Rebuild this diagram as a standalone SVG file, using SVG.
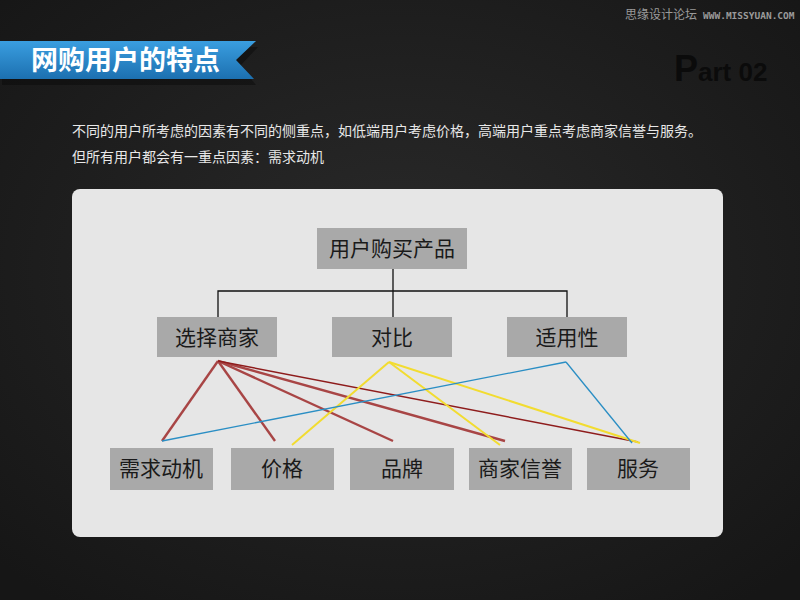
<svg xmlns="http://www.w3.org/2000/svg" width="800" height="600" viewBox="0 0 800 600">
<defs>
<radialGradient id="bg" cx="50%" cy="45%" r="70%">
<stop offset="0" stop-color="#2a2a2a"/>
<stop offset="1" stop-color="#161616"/>
</radialGradient>
<linearGradient id="rib" x1="0" y1="0" x2="0" y2="1">
<stop offset="0" stop-color="#3a9ee0"/>
<stop offset="1" stop-color="#1c70b0"/>
</linearGradient>
<style>
.cjk{font-family:"Noto Sans CJK SC","Noto Sans",sans-serif;}
.box{fill:#a9a9a9;}
.lbl{font-family:"Noto Sans CJK SC",sans-serif;font-size:21px;fill:#1a1a1a;text-anchor:middle;}
.tree{stroke:#111;stroke-width:1.3;fill:none;}
.r{stroke:#a84545;stroke-width:2.4;fill:none;}
.dr{stroke:#8e1c1c;stroke-width:1.4;fill:none;}
.y{stroke:#f2dc30;stroke-width:2;fill:none;}
.b{stroke:#2a8ec4;stroke-width:1.3;fill:none;}
</style>
</defs>
<rect width="800" height="600" fill="url(#bg)"/>
<text x="625" y="19" font-family="Noto Sans CJK SC,sans-serif" font-size="12" fill="#9a9a9a">思缘设计论坛</text>
<text x="703" y="19" font-family="DejaVu Sans Mono,monospace" font-size="9.5" fill="#9a9a9a" font-weight="bold">WWW.MISSYUAN.COM</text>
<g id="banner">
<polygon points="0,44 256,44 238,63 254,82 0,82" fill="#0a0a0a" opacity="0.5" transform="translate(2,3)"/>
<polygon points="0,41 256,41 236,60 254,79 0,79" fill="url(#rib)"/>
<text x="31" y="70" font-family="Noto Sans CJK SC,sans-serif" font-size="27" font-weight="bold" fill="#ffffff">网购用户的特点</text>
</g>
<text x="674" y="81" font-family="Liberation Sans,Arial,sans-serif" font-weight="bold" fill="#0b0b0b"><tspan font-size="36">P</tspan><tspan font-size="26">art 02</tspan></text>
<g class="cjk" font-size="14" fill="#e8e8e8">
<text x="72" y="136">不同的用户所考虑的因素有不同的侧重点，如低端用户考虑价格，高端用户重点考虑商家信誉与服务。</text>
<text x="72" y="162">但所有用户都会有一重点因素：需求动机</text>
</g>
<rect x="72" y="189" width="651" height="348" rx="8" fill="#e6e6e6"/>
<g id="connectors">
<path class="tree" d="M393,269 V291 M218,317 V291 H567 V317 M393,291 V317"/>
<line class="r" x1="218" y1="361" x2="162" y2="441"/>
<line class="r" x1="218" y1="361" x2="275" y2="441"/>
<line class="r" x1="218" y1="361" x2="393" y2="441"/>
<line class="r" x1="218" y1="361" x2="505" y2="441"/>
<line class="dr" x1="218" y1="361" x2="638" y2="442"/>
<line class="y" x1="389" y1="362" x2="292" y2="445"/>
<line class="y" x1="389" y1="362" x2="500" y2="445"/>
<line class="y" x1="389" y1="362" x2="640" y2="443"/>
<line class="b" x1="566" y1="362" x2="162" y2="441"/>
<line class="b" x1="566" y1="362" x2="632" y2="443"/>
</g>
<g id="n-root"><rect class="box" x="317" y="228" width="150" height="41"/><text class="lbl" x="392" y="256">用户购买产品</text></g>
<g id="n-select"><rect class="box" x="157" y="317" width="120" height="40"/><text class="lbl" x="217" y="345">选择商家</text></g>
<g id="n-compare"><rect class="box" x="332" y="317" width="120" height="40"/><text class="lbl" x="392" y="345">对比</text></g>
<g id="n-fit"><rect class="box" x="507" y="317" width="120" height="40"/><text class="lbl" x="567" y="345">适用性</text></g>
<g id="n-need"><rect class="box" x="110" y="448" width="103" height="42"/><text class="lbl" x="161" y="476">需求动机</text></g>
<g id="n-price"><rect class="box" x="231" y="448" width="103" height="42"/><text class="lbl" x="282" y="476">价格</text></g>
<g id="n-brand"><rect class="box" x="350" y="448" width="104" height="42"/><text class="lbl" x="402" y="476">品牌</text></g>
<g id="n-credit"><rect class="box" x="469" y="448" width="103" height="42"/><text class="lbl" x="520" y="476">商家信誉</text></g>
<g id="n-service"><rect class="box" x="587" y="448" width="103" height="42"/><text class="lbl" x="638" y="476">服务</text></g>
</svg>
